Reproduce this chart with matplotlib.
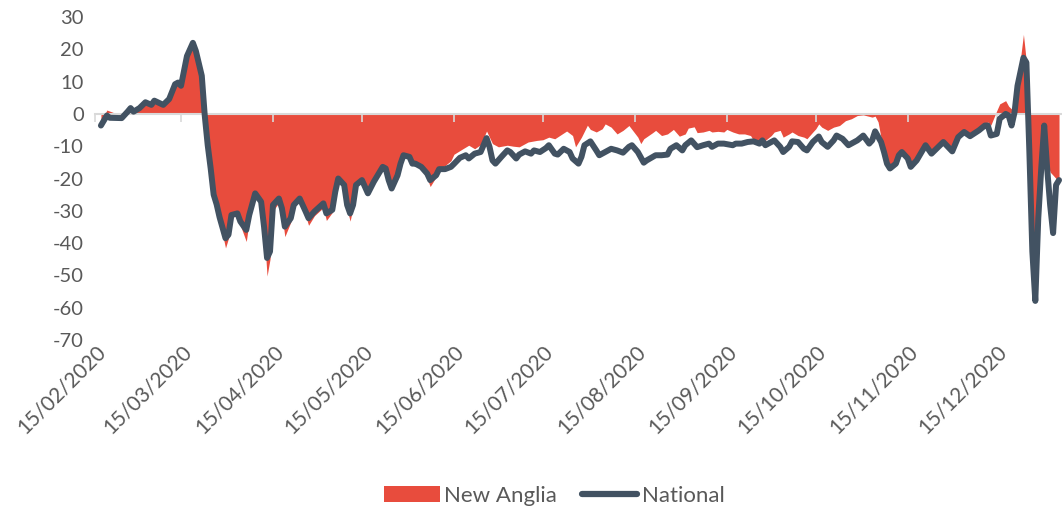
import pandas as pd
import matplotlib.pyplot as plt
from matplotlib.patches import Patch
from matplotlib.lines import Line2D

plt.rcParams['font.family'] = ['Lato', 'DejaVu Sans']
plt.rcParams['axes.unicode_minus'] = False

# days since 15/02/2020
start = pd.Timestamp('2020-02-15')

national_day = [2, 4, 5, 9, 11, 12, 13, 15, 17, 19, 20, 23, 25, 27, 28, 29, 31, 33, 34, 36,
                37, 38, 39, 40, 41, 42, 44, 45, 46, 48, 49, 51, 52, 54, 56, 57, 58, 59, 60, 62,
                63, 64, 66, 67, 69, 71, 72, 74, 77, 78, 80, 81, 82, 84, 85, 86, 87, 88, 90, 92,
                94, 97, 98, 99, 100, 102, 103, 104, 106, 107, 108, 110, 112, 113, 115, 116, 118, 120, 121, 123,
                125, 126, 128, 130, 132, 133, 134, 135, 137, 139, 140, 142, 143, 145, 147, 148, 150, 152, 153, 155,
                156, 158, 160, 161, 163, 164, 165, 167, 169, 170, 172, 174, 176, 178, 180, 181, 183, 185, 186, 189,
                191, 193, 194, 196, 198, 199, 201, 203, 205, 207, 208, 210, 212, 215, 216, 218, 220, 222, 224, 225,
                226, 228, 229, 231, 232, 234, 235, 237, 239, 240, 242, 244, 245, 247, 249, 250, 252, 254, 256, 257,
                259, 261, 262, 263, 265, 266, 267, 268, 270, 271, 272, 274, 275, 277, 279, 280, 282, 284, 286, 289,
                291, 293, 295, 298, 300, 301, 302, 304, 305, 307, 308, 309, 310, 311, 313, 314, 315, 316, 317, 318,
                319, 320, 321, 322, 323, 324, 325]
national = [-3.6, -0.5, -1.2, -1.3, 0.7, 1.8, 0.7, 1.8, 3.6, 2.8, 4.1, 2.8, 4.6, 9.2, 9.7, 8.7, 17.9, 22, 19.5, 11.8,
            -0.5, -9.7, -16.9, -25, -28, -32, -38.5, -37.4, -31.3, -30.8, -33.3, -35.9, -31.3, -24.6, -27.2, -35, -44.6, -42.6, -28.2, -26.2,
            -29.2, -34.9, -32.3, -28.2, -26.2, -30.2, -32.3, -30.2, -27.7, -30.8, -29.7, -24.1, -20, -22, -28.2, -30.8, -28.2, -22, -20.5, -24.6,
            -21, -16.4, -16.9, -20.5, -23.1, -19, -15.4, -12.8, -13.3, -15.4, -15.4, -16.4, -18.5, -20.5, -19, -17.1, -17.1, -16.4, -15.5, -13.6,
            -12.8, -13.8, -12.3, -11.8, -7.5, -10.2, -14.4, -15.4, -13.3, -11.3, -11.8, -13.8, -12.6, -11.6, -12.3, -11.3, -11.8, -10.6, -9.7, -12.3,
            -12.6, -10.8, -11.8, -13.8, -15.4, -13.3, -9.7, -8.5, -11.3, -12.8, -11.8, -10.8, -11.3, -12, -10.2, -9.7, -11.8, -15.1, -14.4, -12.8,
            -12.8, -12.6, -10.8, -9.7, -11.3, -9.7, -8.2, -10.3, -9.7, -9.2, -10.2, -9.2, -9.2, -9.7, -9.2, -9.2, -8.7, -8.5, -9.2, -8.2,
            -9.7, -8.7, -8.2, -10.2, -11.8, -10.2, -8.5, -8.7, -10.8, -11.3, -8.7, -7, -8.7, -10.2, -8.2, -6.7, -7.7, -9.7, -8.7, -8.2,
            -6.7, -9.2, -8.2, -5.4, -8.7, -11.8, -15.4, -16.9, -15.4, -12.8, -11.8, -13.8, -16.4, -14.4, -11.3, -9.7, -12.3, -10.5, -8.7, -11.6,
            -7.2, -5.6, -6.9, -5.1, -3.6, -3.6, -6.7, -6.2, -1.5, 0, -0.5, -3.6, 0.5, 8.7, 17.4, 15.9, -11.8, -42.6, -57.9, -32.3,
            -16.9, -3.6, -16.9, -28.2, -36.9, -22, -20.5]

anglia_day = [2, 4, 6, 9, 11, 12, 13, 15, 17, 19, 20, 23, 25, 27, 28, 29, 31, 33, 34, 36,
              37, 38, 39, 40, 41, 42, 44, 45, 46, 48, 49, 51, 52, 54, 56, 57, 58, 59, 60, 62,
              63, 64, 66, 67, 69, 71, 72, 74, 77, 78, 80, 81, 82, 84, 85, 86, 87, 88, 90, 92,
              94, 97, 98, 99, 100, 102, 103, 104, 106, 107, 108, 110, 112, 113, 115, 116, 118, 120, 121, 124,
              126, 128, 130, 132, 134, 136, 139, 141, 143, 146, 149, 151, 153, 155, 157, 159, 161, 162, 164, 166,
              167, 169, 171, 172, 174, 176, 178, 180, 181, 183, 184, 185, 188, 189, 191, 193, 195, 197, 199, 200,
              202, 203, 205, 207, 208, 210, 212, 213, 215, 217, 219, 221, 222, 224, 226, 228, 229, 231, 232, 234,
              235, 237, 239, 240, 242, 243, 244, 245, 247, 249, 251, 253, 255, 257, 259, 262, 263, 264, 265, 266,
              267, 268, 270, 271, 272, 274, 275, 277, 279, 280, 282, 284, 286, 289, 291, 293, 295, 298, 300, 301,
              302, 304, 305, 307, 308, 309, 310, 311, 313, 314, 315, 316, 317, 318, 319, 320, 321, 322, 323, 324,
              325]
anglia = [-2.5, 1.2, 0.5, -0.8, 0.7, 1.8, 0.9, 1.8, 3.6, 2.8, 4.1, 3.0, 4.8, 9.5, 10, 9.5, 18.5, 22, 20, 12,
          0, -9.7, -16.9, -25, -28.5, -33, -41.5, -38.5, -32, -31.5, -34.5, -39.5, -33, -25.5, -28, -36, -50.2, -45, -30, -27.5,
          -31, -38, -33.5, -29, -27, -31.5, -34.5, -31.5, -29, -33, -30.5, -25, -20.5, -22.5, -29.5, -33.2, -29, -22.5, -21, -25,
          -21.5, -17, -17, -20.5, -23, -19, -15, -12.5, -13, -15, -15.5, -17, -20, -22.5, -19.5, -17, -16, -14.5, -12.5, -10.8,
          -9.7, -10.8, -9.5, -5.3, -9.2, -10.2, -9.7, -10, -10.2, -8.7, -8.2, -8, -7.2, -7.7, -6.5, -5.3, -6.7, -10.2, -7.2, -3.5,
          -4.8, -5.6, -4.6, -3.1, -4.1, -6.2, -5.1, -3.6, -4.8, -7.2, -9.2, -7.7, -5.8, -5.1, -6.7, -6.2, -4.8, -6.9, -6.2, -4.4,
          -4.0, -5.8, -5.6, -5.1, -5.6, -5.4, -5.6, -4.8, -5.6, -6.2, -6.2, -6.7, -8.2, -9.2, -8.2, -6.7, -5.6, -5.1, -7.2, -6.2,
          -5.6, -6.7, -7.2, -7.7, -5.6, -4.6, -3.1, -4.1, -5.1, -4.1, -3.6, -2.1, -1.5, -0.5, -0.3, -1.0, -0.7, -2.5, -7.5, -11.5,
          -15, -16.5, -15, -12.5, -11.5, -13.5, -16, -14, -10, -9, -11.5, -10, -8, -10.5, -6.5, -5, -6, -4.5, -3, -2.5,
          -3.5, 1, 3.1, 4.1, 2.4, 1.5, 0.5, 9.7, 24.6, 16, -11.8, -42.6, -58.5, -32, -16.9, -5, -15, -18, -19, -20,
          -20]

tick_dates = pd.date_range('2020-02-01', '2020-12-01', freq='MS') + pd.Timedelta(days=14)
yticks = list(range(-70, 31, 10))

red = '#E84C3D'
navy = '#425262'
grey = '#595959'

nat_x = start + pd.to_timedelta(national_day, unit='D')
ang_x = start + pd.to_timedelta(anglia_day, unit='D')

fig = plt.figure(figsize=(10.62, 5.11), dpi=100)
ax = fig.add_axes([95 / 1062, 1 - 340 / 511, (1062 - 95) / 1062, (340 - 17) / 511])

ax.fill_between(ang_x, anglia, 0, color=red, linewidth=0, zorder=1)
ax.plot(nat_x, national, color=navy, linewidth=4.3, solid_joinstyle='round',
        solid_capstyle='round', zorder=3)

ax.set_ylim(-70, 30)
ax.set_xlim(start, start + pd.Timedelta(days=326))
ax.set_yticks(yticks)
ax.tick_params(axis='y', length=0, pad=8, labelsize=14.5, labelcolor=grey)

# zero axis line with month ticks, labels at the bottom
for s in ['left', 'right', 'top']:
    ax.spines[s].set_visible(False)
ax.spines['bottom'].set_position(('data', 0))
ax.spines['bottom'].set_color('#D9D9D9')
ax.spines['bottom'].set_linewidth(1.5)
ax.spines['bottom'].set_zorder(2)
ax.set_xticks(tick_dates)
ax.tick_params(axis='x', direction='out', length=6, width=1.2, color='#D9D9D9', labelbottom=False)

sec = ax.secondary_xaxis('bottom')
sec.set_xticks(tick_dates)
sec.set_xticklabels([d.strftime('%d/%m/%Y') for d in tick_dates])
sec.spines['bottom'].set_visible(False)
sec.tick_params(axis='x', length=0, pad=1, labelsize=15, labelcolor=grey)
for lab in sec.get_xticklabels():
    lab.set_rotation(45)
    lab.set_ha('right')
    lab.set_va('top')
    lab.set_rotation_mode('anchor')

handles = [Patch(facecolor=red, edgecolor='none'),
           Line2D([0], [0], color=navy, linewidth=4.5, solid_capstyle='round')]
fig.legend(handles, ['New Anglia', 'National'], loc='center', bbox_to_anchor=(0.522, 0.03),
           ncol=2, frameon=False, fontsize=16, handlelength=2.5, handleheight=0.7,
           handletextpad=0.2, columnspacing=1.1, labelcolor=grey)

fig.savefig('out.png', dpi=100)
